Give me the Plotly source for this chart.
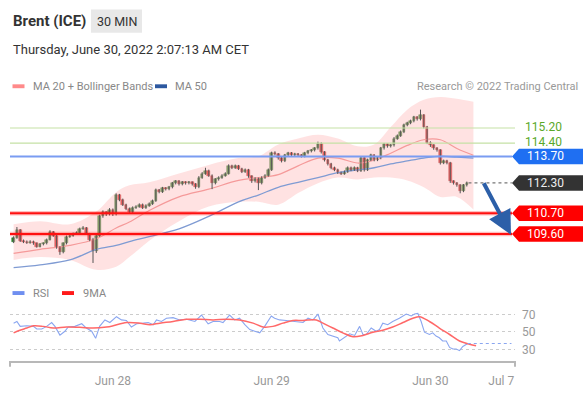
import plotly.graph_objects as go

# ---------------- data ----------------
opens = [109.20, 109.40, 109.81, 109.25, 109.20, 109.15, 109.20, 109.10, 108.94, 109.05,
         109.10, 109.30, 109.71, 109.51, 108.89, 108.64, 109.10, 109.46, 109.51, 109.61,
         109.66, 109.87, 109.92, 109.61, 109.30, 108.69, 109.51, 110.53, 110.74, 110.64,
         110.89, 110.64, 111.66, 111.41, 111.15, 110.94, 110.74, 110.99, 111.05, 111.15,
         110.99, 111.10, 111.20, 111.35, 111.92, 111.82, 112.02, 111.97, 112.07, 112.28,
         112.38, 112.23, 112.33, 112.28, 112.33, 112.23, 112.07, 112.58, 112.79, 112.94,
         112.69, 112.28, 112.48, 112.58, 112.69, 112.79, 113.20, 113.10, 113.20, 113.05,
         112.89, 112.99, 112.64, 112.38, 112.53, 112.28, 112.58, 112.69, 112.99, 113.87,
         113.82, 113.61, 113.46, 113.76, 113.87, 113.76, 113.82, 113.76, 113.71, 113.87,
         113.97, 114.02, 114.12, 114.38, 113.92, 113.51, 113.30, 113.10, 112.99, 112.84,
         112.79, 112.89, 113.10, 112.99, 113.10, 112.94, 113.61, 112.99, 113.51, 113.76,
         113.51, 113.61, 114.12, 114.33, 114.23, 114.28, 114.64, 114.79, 114.99, 115.35,
         115.46, 115.56, 115.76, 115.66, 115.87, 115.25, 114.43, 114.28, 114.12, 114.02,
         113.35, 113.46, 113.35, 112.38, 112.28, 112.17, 111.87, 112.17]
closes = [109.40, 109.81, 109.25, 109.20, 109.15, 109.20, 109.10, 108.94, 109.05, 109.10,
          109.30, 109.71, 109.51, 108.89, 108.64, 109.10, 109.46, 109.51, 109.61, 109.66,
          109.87, 109.92, 109.61, 109.30, 108.69, 109.51, 110.53, 110.74, 110.64, 110.89,
          110.64, 111.66, 111.41, 111.15, 110.94, 110.74, 110.99, 111.05, 111.15, 110.99,
          111.10, 111.20, 111.35, 111.92, 111.82, 112.02, 111.97, 112.07, 112.28, 112.38,
          112.23, 112.33, 112.28, 112.33, 112.23, 112.07, 112.58, 112.79, 112.94, 112.69,
          112.28, 112.48, 112.58, 112.69, 112.79, 113.20, 113.10, 113.20, 113.05, 112.89,
          112.99, 112.64, 112.38, 112.53, 112.28, 112.58, 112.69, 112.99, 113.87, 113.82,
          113.61, 113.46, 113.76, 113.87, 113.76, 113.82, 113.76, 113.71, 113.87, 113.97,
          114.02, 114.12, 114.38, 113.92, 113.51, 113.30, 113.10, 112.99, 112.84, 112.79,
          112.89, 113.10, 112.99, 113.10, 112.94, 113.61, 112.99, 113.51, 113.76, 113.51,
          113.61, 114.12, 114.33, 114.23, 114.28, 114.64, 114.79, 114.99, 115.35, 115.46,
          115.56, 115.76, 115.66, 115.87, 115.25, 114.43, 114.28, 114.12, 114.02, 113.35,
          113.46, 113.35, 112.38, 112.28, 112.17, 111.87, 112.17, 112.30]
highs = [109.48, 109.97, 109.86, 109.31, 109.26, 109.27, 109.25, 109.15, 109.12, 109.16,
         109.36, 109.80, 109.76, 109.56, 108.95, 109.16, 109.52, 109.58, 109.68, 109.74,
         109.94, 110.02, 109.97, 109.66, 109.40, 109.60, 110.62, 110.85, 110.80, 110.97,
         110.95, 111.75, 111.72, 111.47, 111.20, 111.00, 111.06, 111.12, 111.22, 111.21,
         111.17, 111.27, 111.42, 112.00, 111.98, 112.09, 112.08, 112.14, 112.35, 112.45,
         112.44, 112.40, 112.39, 112.40, 112.38, 112.29, 112.66, 112.87, 113.10, 113.00,
         112.75, 112.55, 112.65, 112.76, 112.86, 113.28, 113.26, 113.27, 113.25, 113.10,
         113.06, 113.04, 112.70, 112.60, 112.58, 112.65, 112.76, 113.06, 113.95, 113.97,
         113.88, 113.67, 113.83, 113.94, 113.93, 113.89, 113.88, 113.82, 113.94, 114.04,
         114.09, 114.19, 114.48, 114.44, 113.98, 113.57, 113.36, 113.16, 113.05, 112.90,
         112.96, 113.17, 113.16, 113.17, 113.15, 113.70, 113.66, 113.58, 113.84, 113.81,
         113.68, 114.20, 114.41, 114.39, 114.35, 114.72, 114.86, 115.07, 115.43, 115.53,
         115.64, 115.84, 115.82, 116.17, 115.93, 115.31, 114.50, 114.34, 114.18, 114.08,
         113.53, 113.52, 113.41, 112.44, 112.34, 112.23, 112.24, 112.37]
lows = [109.12, 109.35, 109.18, 109.12, 109.08, 109.09, 109.03, 108.88, 108.90, 109.00,
        109.05, 109.26, 109.45, 108.82, 108.50, 108.58, 109.05, 109.40, 109.46, 109.55,
        109.60, 109.82, 109.55, 109.22, 108.07, 108.60, 109.45, 110.46, 110.55, 110.58,
        110.55, 110.58, 111.33, 111.08, 110.86, 110.66, 110.68, 110.93, 110.99, 110.92,
        110.93, 111.04, 111.14, 111.30, 111.75, 111.77, 111.90, 111.91, 112.01, 112.22,
        112.16, 112.17, 112.21, 112.22, 112.16, 111.99, 112.02, 112.52, 112.73, 112.62,
        111.97, 112.22, 112.42, 112.52, 112.63, 112.74, 113.03, 113.04, 112.98, 112.82,
        112.83, 112.57, 112.30, 112.32, 111.92, 112.22, 112.52, 112.63, 112.93, 113.75,
        113.53, 113.38, 113.40, 113.70, 113.69, 113.70, 113.69, 113.64, 113.65, 113.81,
        113.91, 113.96, 114.06, 113.85, 113.43, 113.22, 113.02, 112.92, 112.77, 112.72,
        112.73, 112.83, 112.92, 112.93, 112.87, 112.88, 112.90, 112.93, 113.45, 113.44,
        113.45, 113.55, 114.06, 114.16, 114.17, 114.22, 114.58, 114.73, 114.93, 115.29,
        115.40, 115.50, 115.59, 115.60, 115.18, 114.35, 114.20, 114.05, 113.95, 113.27,
        113.29, 113.28, 112.30, 112.21, 112.10, 111.75, 111.81, 112.11]

# indicator lines (sampled at candle indices)
band_idx = [0, 8, 17, 25, 31, 35, 41, 50, 59, 68, 74, 80, 86, 92, 98, 104, 109, 114, 119, 124, 129, 134, 139]
bb_upper = [110.12, 110.28, 110.12, 110.79, 111.81, 112.17, 112.33, 112.79, 113.25, 113.61, 113.71, 114.33,
            114.64, 114.84, 114.64, 114.23, 114.33, 115.25, 116.17, 116.69, 116.84, 116.74, 116.58]
bb_lower = [108.23, 108.38, 108.23, 107.71, 107.87, 108.38, 109.25, 110.28, 111.05, 111.30, 111.30, 111.15,
            111.76, 112.28, 112.58, 112.48, 112.58, 112.58, 112.43, 112.07, 111.56, 111.56, 110.89]
ma20 = [108.58, 108.79, 109.00, 109.35, 109.92, 110.23, 110.84, 111.56, 111.97, 112.43, 112.58, 112.74,
        113.20, 113.61, 113.61, 113.35, 113.51, 113.87, 114.28, 114.58, 114.58, 114.12, 113.76]
ma50 = [107.82, 107.97, 108.23, 108.79, 109.00, 109.20, 109.46, 109.87, 110.53, 111.30, 111.66, 112.07,
        112.33, 112.58, 112.84, 112.99, 113.10, 113.30, 113.46, 113.61, 113.71, 113.66, 113.61]

rsi_idx = [0, 1, 2, 4, 6, 7, 8.5, 10, 11.5, 12.5,
           14, 15.5, 16.5, 18.5, 20.6, 22, 23.6, 24.8, 26, 27.6,
           29.1, 31.1, 32.6, 34.1, 35.6, 37.2, 39.2, 40.7, 42.2, 43.2,
           44.7, 46.2, 48.2, 50.2, 52.3, 54.8, 56.8, 58.8, 60.3, 62.3,
           63.3, 65.3, 66.8, 68.3, 69.9, 71.4, 72.9, 74.4, 75.9, 77.9,
           78.9, 80.4, 82.4, 84.4, 85.5, 87.5, 89, 90.5, 92, 93.5,
           95, 96.5, 98, 98.5, 100, 101.6, 103.1, 104.6, 105.6, 106.6,
           108.1, 109.6, 110.6, 111.6, 113.1, 114.6, 116.6, 118.7, 120.2, 121.2,
           122.2, 123.2, 124.2, 125.7, 126.7, 127.7, 128.7, 129.7, 130.8, 131.8,
           132.8, 133.8, 134.8, 135.8, 137.3]
rsi_vals = [60.0, 61.9, 56.3, 57.0, 56.3, 53.3, 53.3, 56.3, 60.7, 56.3,
            46.3, 50.7, 55.6, 56.3, 59.3, 54.4, 50.7, 42.6, 56.3, 63.7,
            60.7, 67.4, 63.7, 63.0, 55.6, 59.3, 60.0, 60.7, 58.2, 63.7,
            61.9, 65.6, 66.3, 63.7, 64.4, 61.9, 69.3, 59.3, 61.9, 61.9,
            60.7, 69.3, 63.7, 65.6, 58.2, 52.6, 50.7, 48.9, 56.3, 68.2,
            65.6, 63.7, 63.0, 61.9, 61.9, 60.7, 65.6, 63.7, 70.4, 54.4,
            47.0, 45.2, 43.3, 39.6, 43.3, 47.8, 45.9, 56.3, 47.0, 47.0,
            54.4, 50.7, 52.6, 60.0, 58.2, 61.9, 65.6, 70.4, 68.2, 70.4,
            71.1, 61.9, 49.6, 47.0, 48.9, 45.2, 43.3, 39.6, 39.6, 32.2,
            30.4, 30.4, 28.5, 33.3, 36.7]
ma9_idx = [0, 1.9, 4, 6, 9, 12, 16, 20, 24, 28.1,
           30.1, 34.1, 38.2, 41.2, 44.2, 48.2, 52.3, 56.3, 60.3, 64.3,
           68.3, 72.4, 75.4, 78.4, 81.4, 84.4, 87.5, 91.5, 93.5, 96.5,
           99.5, 102.6, 105.6, 108.6, 111.6, 114.6, 117.7, 120.7, 122.7, 125.7,
           128.7, 131.8, 134.8, 137.8, 139.8]
ma9_vals = [48.9, 51.9, 54.4, 57.0, 56.3, 54.4, 55.6, 55.2, 54.4, 55.6,
            57.0, 60.7, 60.0, 58.2, 60.0, 61.9, 64.4, 64.4, 63.7, 64.4,
            63.7, 60.0, 55.6, 56.3, 60.0, 63.0, 63.0, 63.7, 60.0, 54.4,
            48.9, 44.4, 45.9, 49.6, 51.9, 55.6, 60.7, 65.6, 67.4, 61.9,
            54.4, 47.0, 39.6, 35.9, 34.1]

resistances = [115.20, 114.40]
pivot = 113.70
last_price = 112.30
supports = [110.70, 109.60]

tick_pos = [30, 78, 126, 147.4]
tick_text = ["Jun 28", "Jun 29", "Jun 30", "Jul 7"]
rsi_ticks = [30, 50, 70]

# ---------------- layout helpers ----------------
W, H = 588, 398
L, R, T, B = 10, 515, 95, 369
def px(x):
    return (x - L) / (R - L)
def py(y):
    return (B - y) / (B - T)

Y_LO, Y_HI = 107.559, 116.943
MAIN_DOM = [py(278), 1.0]
RSI_DOM = [0.0, py(300)]
RSI_RANGE = [16.67, 93.33]
X_RANGE = [-1.09, 151.57]

def pp(p):
    return MAIN_DOM[0] + (p - Y_LO) / (Y_HI - Y_LO) * (MAIN_DOM[1] - MAIN_DOM[0])

FONT = "Roboto, Arial, sans-serif"
GREEN_C = "#2e8b2e"
RED_C = "#e02020"

fig = go.Figure()

# Bollinger band
fig.add_trace(go.Scatter(x=band_idx, y=bb_lower, mode="lines", line=dict(width=0, shape="spline"),
                         hoverinfo="skip", showlegend=False, xaxis="x", yaxis="y"))
fig.add_trace(go.Scatter(x=band_idx, y=bb_upper, mode="lines", line=dict(width=0, shape="spline"),
                         fill="tonexty", fillcolor="rgba(255,185,185,0.42)",
                         hoverinfo="skip", showlegend=False, xaxis="x", yaxis="y"))
fig.add_trace(go.Scatter(x=band_idx, y=ma20, mode="lines", line=dict(color="#f59a9a", width=1.2, shape="spline"),
                         showlegend=False, xaxis="x", yaxis="y"))
fig.add_trace(go.Scatter(x=band_idx, y=ma50, mode="lines", line=dict(color="#7f9bd3", width=1.3, shape="spline"),
                         showlegend=False, xaxis="x", yaxis="y"))

# candles
idx = list(range(len(closes)))
for up, col in [(True, GREEN_C), (False, RED_C)]:
    wx, wy = [], []
    for i in idx:
        if (closes[i] >= opens[i]) == up:
            wx += [i, i, None]
            wy += [lows[i], highs[i], None]
    fig.add_trace(go.Scatter(x=wx, y=wy, mode="lines", line=dict(color="#555555", width=1),
                             hoverinfo="skip", showlegend=False, xaxis="x", yaxis="y"))
body_base = [min(o, c) for o, c in zip(opens, closes)]
body_h = [max(abs(c - o), 0.02) for o, c in zip(opens, closes)]
body_col = [GREEN_C if c >= o else RED_C for o, c in zip(opens, closes)]
body_line = ["#1c601c" if c >= o else "#a01010" for o, c in zip(opens, closes)]
fig.add_trace(go.Bar(x=idx, y=body_h, base=body_base, width=0.78,
                     marker=dict(color=body_col, line=dict(color=body_line, width=0.5)),
                     showlegend=False, xaxis="x", yaxis="y"))

# RSI panel
fig.add_trace(go.Scatter(x=rsi_idx, y=rsi_vals, mode="lines", line=dict(color="#8aa6f0", width=1.1),
                         showlegend=False, xaxis="x2", yaxis="y2"))
fig.add_trace(go.Scatter(x=ma9_idx, y=ma9_vals, mode="lines", line=dict(color="#ff6868", width=1.5, shape="spline"),
                         showlegend=False, xaxis="x2", yaxis="y2"))

shapes = []
annotations = []

# level lines
x_tip, x_box_l, x_box_r, x_txt = px(512), px(519), px(583), px(543)
for lv in resistances:
    shapes.append(dict(type="line", xref="paper", yref="paper", x0=0, x1=px(515), y0=pp(lv), y1=pp(lv),
                       line=dict(color="#c5e1a5", width=1.2), layer="above"))
    annotations.append(dict(xref="paper", yref="paper", x=x_txt, y=pp(lv), yshift=1, text=f"{lv:.2f}",
                            showarrow=False, font=dict(family=FONT, size=12, color="#5aa829"),
                            xanchor="center", yanchor="middle"))

def label_box(p, color, txt_color="white"):
    h = 8 / (B - T)
    yc = pp(p)
    path = (f"M {x_tip},{yc} L {x_box_l},{yc + h} L {x_box_r},{yc + h} "
            f"L {x_box_r},{yc - h} L {x_box_l},{yc - h} Z")
    shapes.append(dict(type="path", xref="paper", yref="paper", path=path,
                       fillcolor=color, line=dict(width=0), layer="above"))
    annotations.append(dict(xref="paper", yref="paper", x=x_txt + 0.004, y=yc, text=f"{p:.2f}", showarrow=False,
                            font=dict(family=FONT, size=12, color=txt_color), xanchor="center", yanchor="middle"))

shapes.append(dict(type="line", xref="paper", yref="paper", x0=0, x1=x_tip, y0=pp(pivot), y1=pp(pivot),
                   line=dict(color="#7a9cf2", width=2), layer="above"))
label_box(pivot, "#1f6ff2")

shapes.append(dict(type="line", xref="x", yref="y", x0=len(closes) - 0.5, x1=150.6, y0=last_price, y1=last_price,
                   line=dict(color="#777777", width=1.2, dash="dot"), layer="above"))
label_box(last_price, "#333333", "#eeeeee")

for lv in supports:
    shapes.append(dict(type="line", xref="paper", yref="paper", x0=0, x1=x_tip, y0=pp(lv), y1=pp(lv),
                       line=dict(color="rgba(255,0,0,0.25)", width=4.5), layer="above"))
    shapes.append(dict(type="line", xref="paper", yref="paper", x0=0, x1=x_tip, y0=pp(lv), y1=pp(lv),
                       line=dict(color="#ff1010", width=2), layer="above"))
    label_box(lv, "#ff0000")

# forecast arrow
annotations.append(dict(xref="paper", yref="paper", x=px(511), y=py(239), ax=-28, ay=-53,
                        showarrow=True, arrowhead=2, arrowsize=1.2, arrowwidth=4, arrowcolor="#2c5fa8",
                        text="", standoff=0))

# RSI continuation
shapes.append(dict(type="line", xref="x2", yref="y2", x0=rsi_idx[-1], x1=150.5, y0=rsi_vals[-1], y1=rsi_vals[-1],
                   line=dict(color="#8aa6f0", width=1.2, dash="dot")))

# x-axis end ticks
for xx in (L, R):
    shapes.append(dict(type="line", xref="paper", yref="paper", x0=px(xx), x1=px(xx), y0=py(369), y1=py(375),
                       line=dict(color="#b8b8b8", width=2)))

# header
shapes.append(dict(type="rect", xref="paper", yref="paper", x0=px(91), x1=px(142), y0=py(7), y1=py(31),
                   fillcolor="#e8e8e8", line=dict(width=0), layer="below"))
annotations.append(dict(xref="paper", yref="paper", x=px(11), y=py(19), text="<b>Brent (ICE)</b>", showarrow=False,
                        font=dict(family=FONT, size=15, color="#333333"), xanchor="left", yanchor="middle"))
annotations.append(dict(xref="paper", yref="paper", x=px(116.5), y=py(19), text="30 MIN", showarrow=False,
                        font=dict(family=FONT, size=12.5, color="#333333"), xanchor="center", yanchor="middle"))
annotations.append(dict(xref="paper", yref="paper", x=px(11), y=py(48), text="Thursday, June 30, 2022 2:07:13 AM CET",
                        showarrow=False, font=dict(family=FONT, size=13, color="#333333"),
                        xanchor="left", yanchor="middle"))

# legends
def legend_item(x_sw, y, color, text, x_text):
    shapes.append(dict(type="rect", xref="paper", yref="paper", x0=px(x_sw), x1=px(x_sw + 12),
                       y0=py(y - 2), y1=py(y + 2), fillcolor=color, line=dict(width=0)))
    annotations.append(dict(xref="paper", yref="paper", x=px(x_text), y=py(y), text=text, showarrow=False,
                            font=dict(family=FONT, size=11, color="#888888"), xanchor="left", yanchor="middle"))

legend_item(12.5, 86, "#ff8a8a", "MA 20 + Bollinger Bands", 31)
legend_item(155, 86, "#2c58a0", "MA 50", 173)
legend_item(12.5, 299, "#6f8ff0", "RSI", 31)
legend_item(62, 299, "#ff1a1a", "9MA", 81)
annotations.append(dict(xref="paper", yref="paper", x=px(580), y=py(86), text="Research © 2022 Trading Central",
                        showarrow=False, font=dict(family=FONT, size=11, color="#999999"),
                        xanchor="right", yanchor="middle"))

fig.update_layout(
    width=W, height=H,
    margin=dict(l=L, r=W - R, t=T, b=H - B),
    paper_bgcolor="white", plot_bgcolor="rgba(0,0,0,0)",
    showlegend=False, bargap=0,
    font=dict(family=FONT),
    xaxis=dict(domain=[0, 1], range=X_RANGE, anchor="y", matches="x2", showticklabels=False,
               showgrid=False, zeroline=False, showline=False, ticks=""),
    yaxis=dict(domain=MAIN_DOM, range=[Y_LO, Y_HI], showticklabels=False, showgrid=False,
               zeroline=False, showline=False, ticks=""),
    xaxis2=dict(domain=[0, 1], range=X_RANGE, anchor="y2", tickmode="array", tickvals=tick_pos,
                ticktext=tick_text, showgrid=False, zeroline=False, showline=True, linecolor="#b8b8b8",
                linewidth=2, ticks="", tickfont=dict(family=FONT, size=12, color="#999999"),
                ticklabelstandoff=8),
    yaxis2=dict(domain=RSI_DOM, range=RSI_RANGE, side="right", tickmode="array", tickvals=rsi_ticks,
                showgrid=True, gridcolor="#cccccc", griddash="dot", gridwidth=1, zeroline=False,
                showline=False, ticks="", tickfont=dict(family=FONT, size=12, color="#999999"),
                ticklabelstandoff=6),
    shapes=shapes, annotations=annotations,
)

fig.write_html("out.html", config={"displayModeBar": False},
               post_script="document.body.style.margin='0';document.body.style.overflow='hidden';")
